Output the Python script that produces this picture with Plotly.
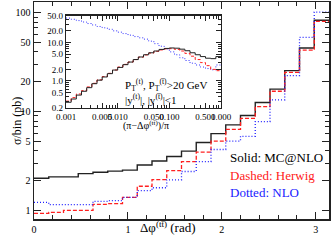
import numpy as np
import plotly.graph_objects as go

# ---------------- data ----------------
n_main_bins = 20
main_edges = np.linspace(0, np.pi, n_main_bins + 1)
mcnlo_main = [2.11, 2.18, 2.18, 2.35, 2.43, 2.49, 2.55, 2.87, 3.15, 3.50,
              3.97, 4.85, 5.97, 7.32, 9.10, 12.3, 16.8, 25.9, 43.8, 83.7]
herwig_main = [0.93, 0.955, 1.00, 1.00, 1.15, 1.17, 1.35, 1.75, 2.04, 2.52,
               3.11, 3.88, 5.00, 6.60, 8.50, 11.2, 16.0, 24.8, 41.7, 81.6]
nlo_main = [1.20, 1.14, 1.14, 1.14, 1.23, 1.25, 1.35, 1.58, 1.69, 2.03,
            2.47, 3.10, 4.12, 5.00, 5.60, 7.87, 13.1, 23.0, 56.0, 101.0]

inset_edges = 10 ** np.linspace(-3, 0, 31)
mcnlo_inset = [0.28, 0.34, 0.43, 0.54, 0.67, 0.85, 1.05, 1.27, 1.55, 1.92,
               2.25, 2.65, 3.10, 3.60, 4.20, 4.80, 5.40, 6.00, 6.60, 7.00,
               7.20, 7.10, 6.70, 6.10, 5.40, 4.80, 4.30, 3.90, 3.80, 4.30]
herwig_inset = [0.30, 0.37, 0.46, 0.56, 0.70, 0.87, 1.07, 1.30, 1.58, 1.93,
                2.30, 2.70, 3.10, 3.60, 4.15, 4.75, 5.30, 5.90, 6.40, 6.80,
                6.90, 6.60, 6.00, 5.20, 4.40, 3.60, 3.00, 2.50, 2.00, 1.85]
nlo_inset = [43.0, 40.0, 37.0, 34.0, 31.0, 28.5, 26.0, 24.0, 22.0, 20.0,
             18.5, 17.0, 15.5, 14.2, 13.2, 12.2, 10.8, 9.3, 8.0, 6.8,
             5.7, 4.8, 4.0, 3.4, 2.9, 2.6, 2.3, 2.1, 1.95, 2.6]

main_x_ticks = [0, 1, 2, 3]
main_y_ticks = [1, 2, 5, 10, 20, 50, 100]
inset_x_ticks = [0.001, 0.005, 0.01, 0.05, 0.1, 0.5, 1.0]
inset_x_labels = ["0.001", "0.005", "0.010", "0.050", "0.100", "0.500", "1.000"]
inset_y_ticks = [0.2, 0.5, 1, 2, 5, 10, 20, 50]
inset_y_labels = ["0.2", "0.5", "1.0", "2.0", "5.0", "10.0", "20.0", "50.0"]

FONT = "Liberation Serif, DejaVu Serif, serif"


def step(edges, vals):
    return list(edges), list(vals) + [vals[-1]]


fig = go.Figure()

# main histograms
for vals, color, dash, w in [(mcnlo_main, "#222222", "solid", 1.4),
                             (herwig_main, "#ff2020", "4px,2px", 1.3),
                             (nlo_main, "#2020ff", "1px,2px", 1.3)]:
    x, y = step(main_edges, vals)
    fig.add_trace(go.Scatter(x=x, y=y, mode="lines", line_shape="hv",
                             line=dict(color=color, dash=dash, width=w),
                             xaxis="x", yaxis="y", showlegend=False,
                             hoverinfo="skip"))

# inset histograms
for vals, color, dash, w in [(nlo_inset, "#3030ff", "1px,2px", 1.0),
                             (herwig_inset, "#ff2020", "3px,2px", 1.0),
                             (mcnlo_inset, "#222222", "solid", 1.0)]:
    x, y = step(inset_edges, vals)
    fig.add_trace(go.Scatter(x=x, y=y, mode="lines", line_shape="hv",
                             line=dict(color=color, dash=dash, width=w),
                             xaxis="x2", yaxis="y2", showlegend=False,
                             hoverinfo="skip"))

# minor tick positions
main_y_minor = [v * d for d in (1, 10) for v in (3, 4, 6, 7, 8, 9)]
inset_x_minor = [v * d for d in (0.001, 0.01, 0.1) for v in (2, 3, 4, 6, 7, 8, 9)]
inset_y_minor = [0.3, 0.4, 0.6, 0.7, 0.8, 0.9, 3, 4, 6, 7, 8, 9, 30, 40]

axcol = "#222222"
fig.update_layout(
    template="none",
    width=332, height=245,
    margin=dict(l=34, r=3, t=2, b=26),
    paper_bgcolor="white", plot_bgcolor="white",
    font=dict(family=FONT, size=10, color="black"),
    xaxis=dict(domain=[0, 1], range=[0, np.pi], tickvals=main_x_ticks,
               automargin=False, tickangle=0,
               ticks="inside", ticklen=7, tickwidth=1, tickcolor=axcol,
               mirror="ticks", showline=True, linecolor=axcol, linewidth=1.5,
               showgrid=False, zeroline=False,
               tickfont=dict(family=FONT, size=10),
               minor=dict(dtick=0.2, ticks="inside", ticklen=4, tickcolor=axcol,
                          showgrid=False)),
    yaxis=dict(domain=[0, 1], type="log", range=[-0.088, 2.107],
               automargin=False,
               tickvals=main_y_ticks, ticktext=[str(v) for v in main_y_ticks],
               ticks="inside", ticklen=7, tickwidth=1, tickcolor=axcol,
               mirror="ticks", showline=True, linecolor=axcol, linewidth=1.5,
               showgrid=False, zeroline=False,
               tickfont=dict(family=FONT, size=10),
               minor=dict(tickvals=main_y_minor, ticks="inside", ticklen=4,
                          tickcolor=axcol, showgrid=False)),
    xaxis2=dict(domain=[0.1085, 0.634], anchor="y2", type="log", range=[-3, 0],
                automargin=False, tickangle=0,
                tickvals=inset_x_ticks, ticktext=inset_x_labels,
                ticks="inside", ticklen=5, tickcolor=axcol, mirror="ticks",
                showline=True, linecolor=axcol, linewidth=1.2, showgrid=False,
                zeroline=False, tickfont=dict(family=FONT, size=9),
                minor=dict(tickvals=inset_x_minor, ticks="inside", ticklen=3,
                           tickcolor=axcol, showgrid=False)),
    yaxis2=dict(domain=[0.512, 0.9376], anchor="x2", type="log",
                automargin=False,
                range=[np.log10(0.2), np.log10(50)],
                tickvals=inset_y_ticks, ticktext=inset_y_labels,
                ticks="inside", ticklen=5, tickcolor=axcol, mirror="ticks",
                showline=True, linecolor=axcol, linewidth=1.2, showgrid=False,
                zeroline=False, tickfont=dict(family=FONT, size=9),
                minor=dict(tickvals=inset_y_minor, ticks="inside", ticklen=3,
                           tickcolor=axcol, showgrid=False)),
)

ann = []
ann.append(dict(text="σ/bin (pb)", textangle=-90, x=-0.088, y=0.452,
                xref="paper", yref="paper", showarrow=False,
                font=dict(family=FONT, size=12)))
ann.append(dict(text="Δφ<sup>(tt\u0304)</sup> (rad)", x=0.455, y=-0.085,
                xref="paper", yref="paper", showarrow=False,
                font=dict(family=FONT, size=13)))
ann.append(dict(text="(π−Δφ<sup>(tt\u0304)</sup>)/π", x=0.378, y=0.43,
                xref="paper", yref="paper", showarrow=False,
                font=dict(family=FONT, size=10)))
ann.append(dict(text="P<sub>T</sub><sup>(t)</sup>, P<sub>T</sub><sup>(t\u0304)</sup>>20 GeV",
                x=0.30, y=0.617, xref="paper", yref="paper", xanchor="left",
                showarrow=False, font=dict(family=FONT, size=11)))
ann.append(dict(text="|y<sup>(t)</sup>|, |y<sup>(t\u0304)</sup>|<1",
                x=0.30, y=0.553, xref="paper", yref="paper", xanchor="left",
                showarrow=False, font=dict(family=FONT, size=11)))
for txt, col, ypx in [("Solid: MC@NLO", "black", 167),
                      ("Dashed: Herwig", "#ff2020", 185),
                      ("Dotted: NLO", "#2020ff", 202)]:
    ann.append(dict(text=txt, x=(228 - 34) / 295, y=(218.7 - ypx) / 216.2,
                    xref="paper", yref="paper", xanchor="left",
                    showarrow=False, font=dict(family=FONT, size=13, color=col)))
fig.update_layout(annotations=ann)

fig.write_html("out.html",
               config={"displayModeBar": False, "staticPlot": True},
               post_script="document.body.style.margin='0';"
                           "document.body.style.padding='0';"
                           "document.body.style.overflow='hidden';")
